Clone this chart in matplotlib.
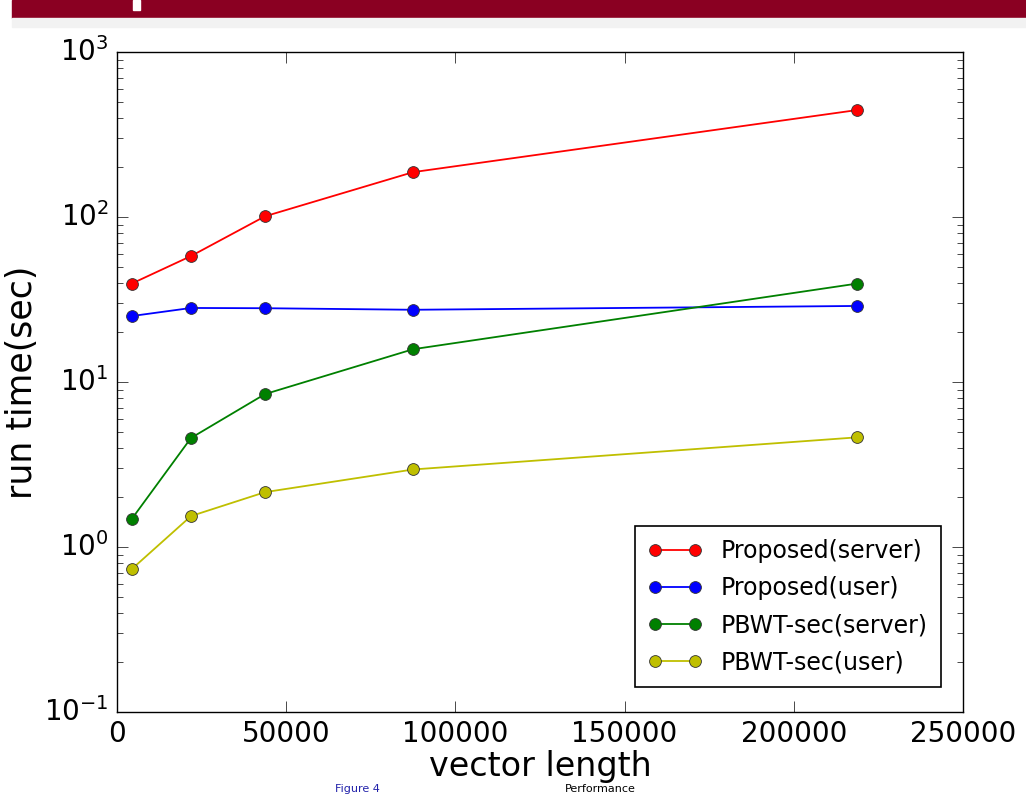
import matplotlib
matplotlib.use('Agg')
import matplotlib.pyplot as plt

vector_length = [4375, 21875, 43750, 87500, 218750]
proposed_server = [39.5, 58, 101, 187, 445]
proposed_user = [25.1, 28.1, 28.0, 27.4, 28.9]
pbwt_server = [1.48, 4.58, 8.45, 15.8, 39.5]
pbwt_user = [0.735, 1.54, 2.15, 2.95, 4.62]

series = [
    ('Proposed(server)', proposed_server, 'r'),
    ('Proposed(user)', proposed_user, 'b'),
    ('PBWT-sec(server)', pbwt_server, 'g'),
    ('PBWT-sec(user)', pbwt_user, 'y'),
]

plt.style.use('classic')
fig = plt.figure(figsize=(10.26, 7.94), dpi=100, facecolor='white')

# slide decoration around the chart
fig.patches.append(plt.Rectangle((12/1026, 1-18/794), 1, 18/794, transform=fig.transFigure,
                                 color='#8a0022', zorder=0))
fig.patches.append(plt.Rectangle((12/1026, 1-27/794), 1, 9/794, transform=fig.transFigure,
                                 color='#f2f2f2', zorder=0))
fig.patches.append(plt.Rectangle((133/1026, 1-10/794), 7/1026, 10/794, transform=fig.transFigure,
                                 color='white', zorder=1))

ax = fig.add_axes([117/1026, 1-712/794, 846/1026, 660/794])
for name, vals, c in series:
    ax.plot(vector_length, vals, '-o', color=c, label=name, lw=1.3,
            markersize=8.5, markeredgewidth=0.6, markeredgecolor='#333333')

ax.set_yscale('log')
ax.set_ylim(0.1, 1000)
ax.set_xlim(0, 250000)
ax.set_xticks([0, 50000, 100000, 150000, 200000, 250000])
ax.tick_params(labelsize=20, pad=6)
ax.tick_params(which='major', length=8)
ax.tick_params(which='minor', length=4)
ax.set_xlabel('vector length', fontsize=24, labelpad=1)
ax.set_ylabel('run time(sec)', fontsize=25, labelpad=4)

leg = ax.legend(loc='lower right', fontsize=17, numpoints=2, borderpad=0.55,
                handlelength=2.3, labelspacing=0.55, fancybox=False,
                bbox_to_anchor=(0.988, 0.02))
leg.get_frame().set_linewidth(1.2)

fig.text(335/1026, 0.5/794, 'Figure 4', color='#2222aa', fontsize=8, va='bottom')
fig.text(565/1026, 0.5/794, 'Performance', color='black', fontsize=8, va='bottom')

fig.savefig('out.png', dpi=100, facecolor='white')
